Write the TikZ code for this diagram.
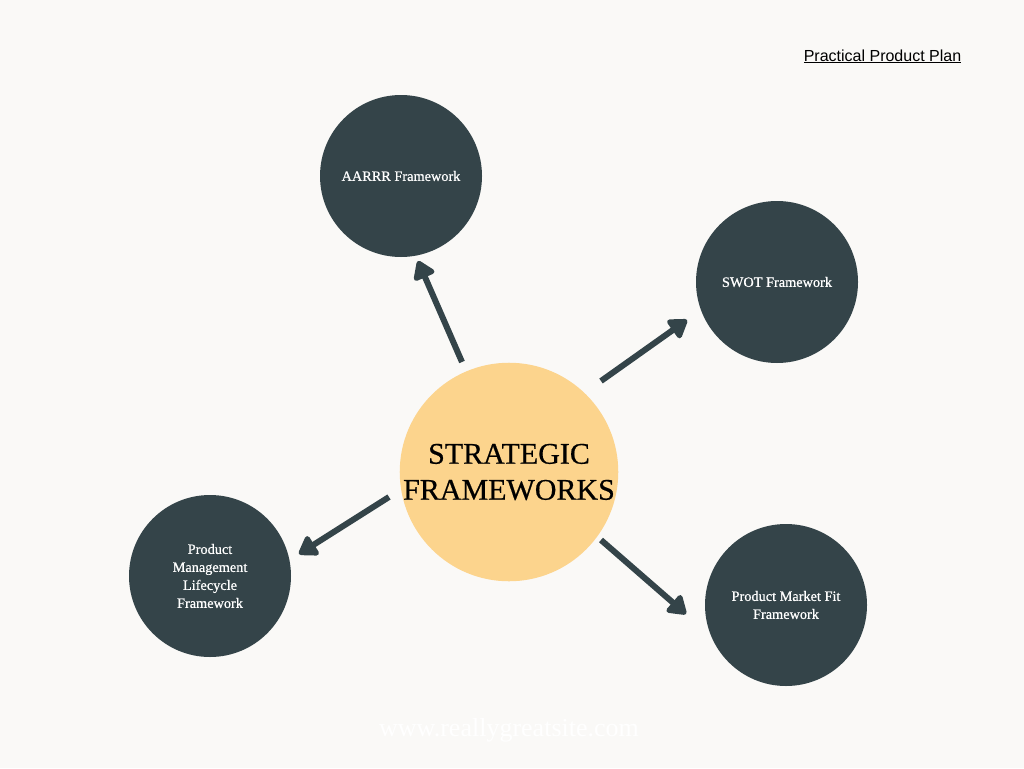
\documentclass[tikz,border=0pt]{standalone}
\usepackage{fontspec}
\setmainfont{Liberation Serif}
\newfontfamily\labelsans{Liberation Sans}
\newfontfamily\heavyserif[FakeBold=0.6]{Liberation Serif}
\usetikzlibrary{arrows.meta}
\definecolor{bgc}{HTML}{FAF9F7}
\definecolor{darkc}{HTML}{344449}
\definecolor{yellowc}{HTML}{FCD48D}
\tikzset{
  hub/.style={circle, fill=yellowc, minimum size=216pt, inner sep=0pt, align=center,
    font=\heavyserif\fontsize{30}{36}\selectfont, text=black},
  fw/.style={circle, fill=darkc, minimum size=162pt, inner sep=0pt, align=center,
    font=\heavyserif\fontsize{14.3}{18}\selectfont, text=white},
  conn/.style={draw=darkc, line width=6pt, -{Triangle[length=20pt,width=25pt,round]}}
}
\begin{document}
\begin{tikzpicture}[x=1pt,y=-1pt]
\fill[bgc] (0,0) rectangle (1024,768);
\useasboundingbox (0,0) rectangle (1024,768);
\node[hub] (hub) at (509,472) {STRATEGIC\hspace{0.4em}\\FRAMEWORKS};
\node[fw] (aarrr) at (401,176) {AARRR Framework};
\node[fw] (swot) at (777,282) {SWOT Framework};
\node[fw] (pml) at (210,576) {Product\\Management\\Lifecycle\\Framework};
\node[fw] (pmf) at (786,605) {Product Market Fit\\Framework};
\coordinate (s1) at (462,362); \coordinate (e1) at (418,261);
\coordinate (s2) at (601,381); \coordinate (e2) at (687,320);
\coordinate (s3) at (601,540); \coordinate (e3) at (686,614);
\coordinate (s4) at (389,497); \coordinate (e4) at (299,554);
\draw[conn] (s1) -- (e1);
\draw[conn] (s2) -- (e2);
\draw[conn] (s3) -- (e3);
\draw[conn] (s4) -- (e4);
\node[anchor=base, font=\labelsans\fontsize{16}{19}\selectfont] (title) at (882.5,61) {\underline{Practical Product Plan}};
\node[anchor=base, text=white, font=\fontsize{26}{30}\selectfont] (site) at (509,736) {www.reallygreatsite.com};
\end{tikzpicture}
\end{document}
